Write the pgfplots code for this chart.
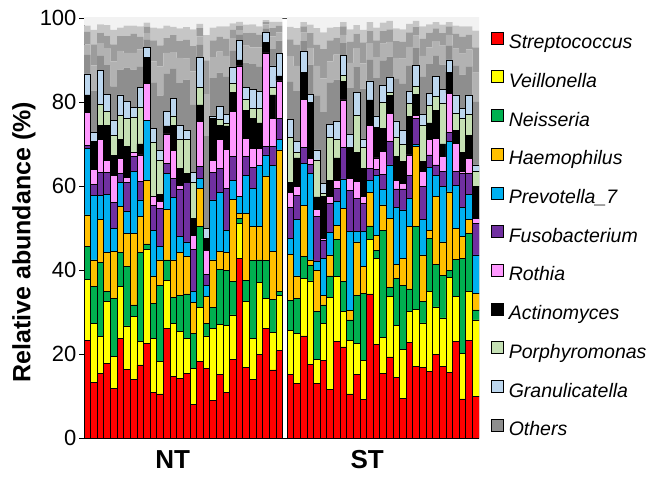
\documentclass[border=0pt]{standalone}
\usepackage{fontspec}
\setmainfont{Liberation Sans}
\usepackage{pgfplots}
\usepackage{pgfplotstable}
\pgfplotsset{compat=1.18}

\definecolor{cRed}{HTML}{FF0000}
\definecolor{cYel}{HTML}{FFFF00}
\definecolor{cGrn}{HTML}{00B050}
\definecolor{cOra}{HTML}{FFC000}
\definecolor{cBlu}{HTML}{00B0F0}
\definecolor{cPur}{HTML}{7030A0}
\definecolor{cPnk}{HTML}{FF99FF}
\definecolor{cBlk}{HTML}{000000}
\definecolor{cLgr}{HTML}{C5E0B4}
\definecolor{cLbl}{HTML}{BDD7EE}
\definecolor{gA}{HTML}{8E8E8E}
\definecolor{gB}{HTML}{B2B2B2}
\definecolor{gC}{HTML}{9C9C9C}
\definecolor{gD}{HTML}{C6C6C6}
\definecolor{gE}{HTML}{F2F2F2}

% segment sizes (%), bottom to top; NT at x=1..30, ST at x=31.7..59.7
\pgfplotstableread{
x r y g o b p pk k lg lb o1 o2 o3 o4 o5
1 23.3 14.5 7.8 7.5 15.9 0.6 7.9 4.2 0 5.0 4.5 2.5 3 1.5 30
2 13.3 14.0 8.7 6.4 15.3 2.7 3.6 6.6 0 2.1 10 6 5 3.5 30
3 15.4 8.7 17.7 10.3 5.6 5.5 7.9 3.4 5.0 8.0 3.5 3 2.5 2 30
4 17.8 14.8 2.4 9.2 13.7 5.3 2.8 8.5 3.2 4.1 7 4 3 2.5 30
5 11.8 7.6 13.9 11.1 5.4 6.2 6.6 4.6 4.9 3.6 8 6 4 3.5 30
6 23.7 12.3 8.2 10.9 5.8 2.1 3.6 4.4 5.9 4.8 6 4.5 3.5 2 30
7 16.4 10.3 14.1 7.9 5.2 6.9 1.2 7.4 6.7 4.1 8 3.5 4 2.5 30
8 14.0 14.9 2.8 17.0 14.7 3.6 0.9 0 8.4 2.4 9 4 4.5 2 30
9 17.4 5.5 21.2 8.6 4.0 4.3 6.4 2.6 8.7 4.8 5 4 3 2.5 30
10 22.5 22.4 1.3 15.2 14.3 0 8.7 6.2 0 2.3 2 1.5 1.5 1 30
11 10.8 12.9 8.3 6.6 10.9 5.8 2.2 0 12.8 3.4 11 5 5 3 30
12 10.5 7.7 18.1 6.1 3.3 9.0 1.6 1.7 8.0 2.5 13 7 5 4 30
13 26.1 11.5 4.8 12.0 8.5 2.5 7.0 1.9 0 3.4 9 5 3.5 3 30
14 14.6 12.7 6.2 8.9 14.9 4.5 6.6 6.1 2.2 4.2 7 4 4 2 30
15 14.2 11.1 8.7 10.2 3.8 11.2 1.0 4.0 6.8 3.5 10 6 4 3 30
16 15.4 8.3 10.6 8.9 3.5 14.2 0 2.1 8.1 2.2 12 5 4.5 3 30
17 7.9 8.7 8.3 7.3 2.6 10.1 3.4 4.0 8.5 2.5 16 8 6 4 30
18 18.3 12.7 19.3 9.1 2.4 2.8 10.7 4.0 4.2 7.1 3 2 2 1 30
19 16.6 7.7 3.0 6.5 2.6 2.6 5.6 2.9 0 2.4 22 10 8 6 30
20 8.9 17.2 5.0 11.3 14.3 6.5 2.8 10.1 0 0.6 9 5 4 3 30
21 15.2 11.9 13.1 4.2 14.0 5.8 6.8 3.5 1.4 3.1 8 5 3.5 2.5 30
22 10.8 16.1 13.1 4.2 5.3 9.9 9.4 5.5 0.6 2.1 9 5 4 3 30
23 18.7 10.6 7.9 19.7 4.5 5.6 10.7 4.5 2.2 3.8 4 3 2 1.5 30
24 42.8 8.3 1.2 1.2 4.0 0 31.1 1.4 0 4.6 1.5 1 1 1 30
25 16.8 15.7 5.1 15.9 9.1 4.5 4.2 6.6 2.7 2.8 6 4 3 2 30
26 14.0 9.7 18.5 8.1 9.2 5.0 4.5 7.0 2.5 4.5 6 4 3.5 2 30
27 19.8 17.2 5.4 7.9 14.5 0 4.2 6.0 3.5 4.0 6 4.5 3 2 30
28 26.1 7.2 8.9 20.2 5.0 2.1 22.2 2.4 0 2.4 1 1 0.5 0.5 30
29 16.2 8.9 7.8 11.5 20.4 4.6 6.7 5.6 1.8 5.1 4 3 2 1.5 30
30 20.8 13.2 1.0 33.6 2.4 5.1 8.9 1.2 0 5.4 3 2 1.5 1 30
31.7 15.2 10.5 7.0 11.1 3.7 7.4 3.5 2.5 10.6 4.4 9 6 4 3 30
32.7 13.0 11.8 8.5 5.3 13.4 5.7 2.3 6.7 1.3 2.6 12 6 5 4 30
33.7 24.3 13.7 5.2 12.1 10.1 3.7 11.6 6.4 0 4.9 2.5 2 1.5 1 30
34.7 17.6 19.8 3.8 1.2 20.6 2.2 1.4 13.3 0 2.0 7 4 3.5 2 30
35.7 12.9 5.9 11.3 9.9 2.0 10.7 1.8 2.9 8.8 2.4 13 7 5 4 30
36.7 18.4 8.9 4.4 2.2 8.9 4.2 0.5 10.0 0.8 2.3 17 8 7 4 30
37.7 11.6 21.8 5.2 5.0 5.3 7.0 1.6 3.9 10.1 3.2 10 5 5 3 30
38.7 22.9 15.5 8.9 3.4 5.6 3.1 2.0 5.3 4.5 4.1 10 6 4 2.5 30
39.7 21.7 8.5 7.0 17.5 7.0 7.4 11.4 4.3 1.6 4.6 3 2 2 1 30
40.7 10.5 12.8 4.8 2.2 18.8 9.9 2.8 7.3 0 3.2 11 6 5 3 30
41.7 15.2 7.3 11.4 12.8 2.4 7.9 4.0 7.0 8.9 5.4 6 4.5 3.5 2 30
42.7 9.2 9.2 16.0 6.4 8.3 6.8 1.6 6.7 4.9 2.1 12 6 5 3 30
43.7 34.3 13.0 3.2 7.9 3.0 2.8 10.3 6.0 0 4.5 5 4 3 2 30
44.7 22.3 20.5 1.8 3.6 14.3 1.5 2.7 7.2 0 2.8 9 5 4 3 30
45.7 15.4 8.6 25.5 6.0 3.7 3.6 5.4 5.5 6.2 4.0 6 4 3 2 30
46.7 19.3 14.4 2.2 16.4 12.7 5.7 6.6 4.2 0.8 3.5 5 3.5 3 2 30
47.7 14.4 12.4 11.2 3.3 13.7 4.3 2.1 5.6 4.7 3.8 10 5 4 3 30
48.7 9.4 11.6 15.3 6.5 11.5 5.0 1.3 5.2 4.1 3.4 11 6 4 3 30
49.7 22.7 7.5 5.3 14.9 6.7 5.5 4.8 9.1 3.2 2.9 6 4.5 3.5 2 30
50.7 17.1 13.6 19.7 19.0 0.5 6.2 0.8 4.9 1.9 5.1 4 3 2 1.5 30
51.7 16.8 10.6 5.2 11.0 8.4 8.0 3.5 2.3 8.6 2.6 9 5 4 3 30
52.7 15.8 19.0 12.7 2.0 14.9 3.0 3.6 4.0 4.1 2.9 7 4 3.5 2 30
53.7 20.0 11.2 10.2 16.1 5.0 2.5 6.3 6.7 3.3 4.7 5 3.5 3 1.5 30
54.7 17.0 11.6 10.2 7.9 13.3 3.5 3.5 3.0 9.7 3.2 6 4.5 3 2 30
55.7 15.6 22.7 1.5 18.8 12.1 2.1 9.3 5.0 0 2.9 3.5 2.5 2 1 30
56.7 22.9 10.8 8.8 7.4 10.3 3.2 6.8 3.1 4.0 4.4 7 4 3.5 2 30
57.7 9.3 10.9 22.6 5.2 7.0 8.0 0.5 4.5 8.0 2.5 8 5 4 2.5 30
58.7 23.2 11.6 13.9 3.3 6.0 5.0 3.5 5.5 5.0 4.5 7 4 3.5 2 30
59.7 9.8 18.3 2.4 3.9 9.2 7.5 1.2 7.5 3.6 1.6 15 7 6 4 30
}\abund

\begin{document}
\begin{tikzpicture}
\begin{axis}[
  at={(84pt,39pt)}, anchor=south west,
  scale only axis, width=395pt, height=420pt,
  clip mode=individual,
  ybar stacked, bar width=1,
  xmin=0.5, xmax=60.2, ymin=0, ymax=100,
  axis x line=bottom, axis y line=left,
  axis line style={-, line width=0.8pt, black},
  xtick=\empty, ytick={0,20,...,100},
  tick align=outside, major tick length=5pt,
  ytick style={line width=0.8pt, black},
  /pgf/number format/assume math mode=true,
  yticklabel style={font=\fontsize{22}{22}\selectfont, xshift=1pt},
  ylabel={\textbf{Relative abundance (\%)}},
  ylabel style={font=\fontsize{25}{25}\selectfont, at={(axis description cs:-0.152,0.466)}, anchor=center},
  legend image code/.code={\draw[#1, line width=0.6pt] (0pt,0pt) rectangle (12pt,12pt);},
  legend cell align=left,
  legend style={draw=none, fill=none, at={(1,1)}, anchor=north west,
    xshift=9pt, yshift=-11.5pt,
    font=\fontsize{19.5}{19.5}\selectfont\itshape,
    nodes={inner sep=0pt, text height=14pt, text depth=4.6pt},
    row sep=17.1pt, column sep=5pt},
]
\addplot[fill=cRed, draw=black, line width=0.7pt] table[x=x, y=r]{\abund};
\addlegendentry{Streptococcus}
\addplot[fill=cYel, draw=black, line width=0.7pt] table[x=x, y=y]{\abund};
\addlegendentry{Veillonella}
\addplot[fill=cGrn, draw=black, line width=0.7pt] table[x=x, y=g]{\abund};
\addlegendentry{Neisseria}
\addplot[fill=cOra, draw=black, line width=0.7pt] table[x=x, y=o]{\abund};
\addlegendentry{Haemophilus}
\addplot[fill=cBlu, draw=black, line width=0.7pt] table[x=x, y=b]{\abund};
\addlegendentry{Prevotella\_7}
\addplot[fill=cPur, draw=black, line width=0.7pt] table[x=x, y=p]{\abund};
\addlegendentry{Fusobacterium}
\addplot[fill=cPnk, draw=black, line width=0.7pt] table[x=x, y=pk]{\abund};
\addlegendentry{Rothia}
\addplot[fill=cBlk, draw=black, line width=0.7pt] table[x=x, y=k]{\abund};
\addlegendentry{Actinomyces}
\addplot[fill=cLgr, draw=black, line width=0.7pt] table[x=x, y=lg]{\abund};
\addlegendentry{Porphyromonas}
\addplot[fill=cLbl, draw=black, line width=0.7pt] table[x=x, y=lb]{\abund};
\addlegendentry{Granulicatella}
\addplot[fill=gA, draw=none] table[x=x, y=o1]{\abund};
\addlegendentry{Others}
\addplot[fill=gB, draw=none, forget plot] table[x=x, y=o2]{\abund};
\addplot[fill=gC, draw=none, forget plot] table[x=x, y=o3]{\abund};
\addplot[fill=gD, draw=none, forget plot] table[x=x, y=o4]{\abund};
\addplot[fill=gE, draw=none, forget plot] table[x=x, y=o5]{\abund};
\draw[gray!60!black, line width=0.6pt] (rel axis cs:0,1) -- (rel axis cs:1,1);
\node[font=\fontsize{26}{26}\selectfont\bfseries, anchor=center] at (axis cs:13.9,0) [yshift=-22pt] {NT};
\node[font=\fontsize{26}{26}\selectfont\bfseries, anchor=center] at (axis cs:43.3,0) [yshift=-22pt] {ST};
\end{axis}
\pgfresetboundingbox
\path[use as bounding box] (0,0) rectangle (655pt,477pt);
\end{tikzpicture}
\end{document}
